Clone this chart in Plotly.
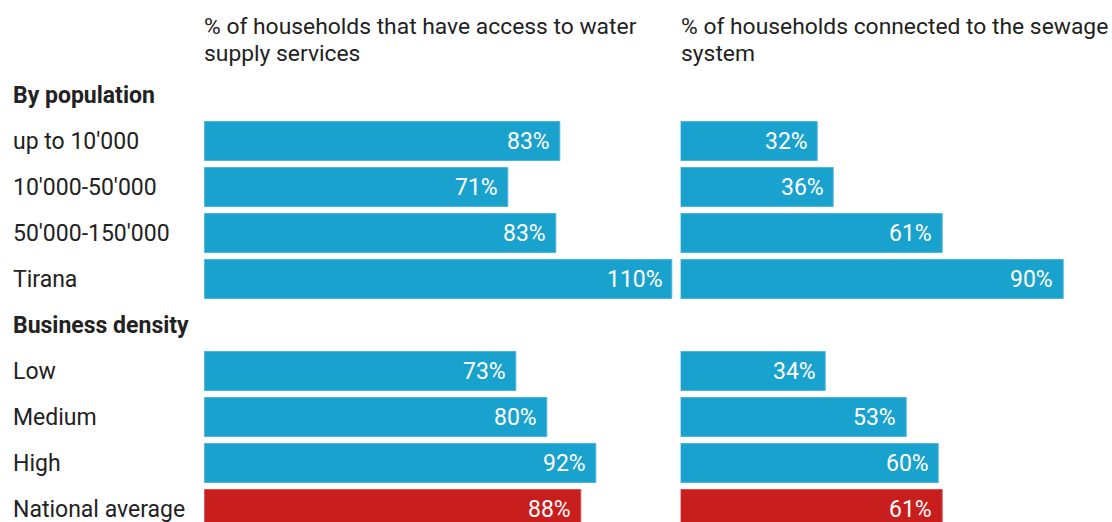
import plotly.graph_objects as go

# ---- data ----
row_labels = ["By population", "up to 10'000", "10'000-50'000", "50'000-150'000", "Tirana",
              "Business density", "Low", "Medium", "High", "National average"]
header_rows = ["By population", "Business density"]
bar_rows = ["up to 10'000", "10'000-50'000", "50'000-150'000", "Tirana",
            "Low", "Medium", "High", "National average"]
water_values = [83.6, 71.4, 82.7, 110.1, 73.3, 80.5, 92.1, 88.5]
water_labels = ["83%", "71%", "83%", "110%", "73%", "80%", "92%", "88%"]
sewage_values = [32.3, 36.0, 61.5, 89.9, 34.1, 53.0, 60.6, 61.5]
sewage_labels = ["32%", "36%", "61%", "90%", "34%", "53%", "60%", "61%"]
panel_titles = [["% of households that have access to water", "supply services"],
                ["% of households connected to the sewage", "system"]]
highlight = "National average"

BLUE = "#1aa2ce"
BLUE_LINE = "#4db6dc"
RED = "#c81e1e"
RED_LINE = "#d95050"
TXT = "#222222"
FONT = "Roboto"
FS = 23
FS_TITLE = 22.85

OFF = 0  # body margin removed via post_script
W, H = 1112 - OFF, 522 - OFF
row_pos = {lab: i for i, lab in enumerate(row_labels)}
ys = [row_pos[r] for r in bar_rows]
colors = [RED if r == highlight else BLUE for r in bar_rows]
lcolors = [RED_LINE if r == highlight else BLUE_LINE for r in bar_rows]

scale = 4.255  # px per percent
l0, l1 = 204.3 - OFF, 676.0 - OFF
r0, r1 = 680.7 - OFF, 1112.0 - OFF

fig = go.Figure()
for vals, xa in [(water_values, "x"), (sewage_values, "x2")]:
    fig.add_trace(go.Bar(
        x=vals, y=ys, orientation="h", width=0.835,
        marker=dict(color=colors, line=dict(color=lcolors, width=1)),
        xaxis=xa, yaxis="y", hoverinfo="skip", showlegend=False))

annotations = []
for vals, labs, xr in [(water_values, water_labels, "x"), (sewage_values, sewage_labels, "x2")]:
    for v, t, y in zip(vals, labs, ys):
        annotations.append(dict(x=v, y=y, xref=xr, yref="y", text=t, showarrow=False,
                                xanchor="right", yanchor="middle", xshift=-8,
                                font=dict(family=FONT, size=FS, color="white")))

for lab in row_labels:
    txt = f"<b>{lab}</b>" if lab in header_rows else lab
    annotations.append(dict(x=(13 - OFF - 2) / W, y=row_pos[lab], xref="paper", yref="y", text=txt,
                            showarrow=False, xanchor="left", yanchor="middle",
                            font=dict(family=FONT, size=FS, color=TXT)))

plot_top = 72 - OFF
line_centers = [27 - OFF, 53 - OFF]
for lines, xr in zip(panel_titles, ["x domain", "x2 domain"]):
    for t, yc in zip(lines, line_centers):
        annotations.append(dict(x=0, y=(H - yc) / (H - plot_top), xref=xr, yref="paper", text=t,
                                showarrow=False, xanchor="left", yanchor="middle", align="left",
                                xshift=-2, font=dict(family=FONT, size=FS_TITLE, color=TXT)))

pitch = 46.0
first_center = 95.5 - OFF
y_top = (plot_top - first_center) / pitch
y_bot = (H - first_center) / pitch

fig.update_layout(
    width=W, height=H,
    margin=dict(l=0, r=0, t=plot_top, b=0, pad=0),
    paper_bgcolor="white", plot_bgcolor="white",
    font=dict(family=FONT, size=FS, color=TXT),
    bargap=0,
    xaxis=dict(domain=[l0 / W, l1 / W], range=[0, (l1 - l0) / scale], visible=False, fixedrange=True),
    xaxis2=dict(domain=[r0 / W, r1 / W], range=[0, (r1 - r0) / scale], visible=False, fixedrange=True),
    yaxis=dict(range=[y_bot, y_top], visible=False, fixedrange=True),
    annotations=annotations,
)

fig.write_html("out.html", config={"displayModeBar": False},
               post_script="document.body.style.margin='0';document.body.style.overflow='hidden';")
